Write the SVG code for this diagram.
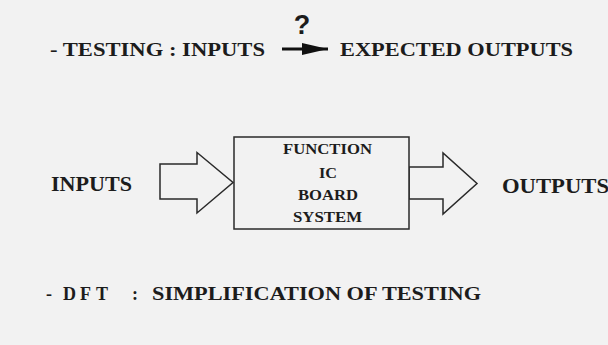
<svg xmlns="http://www.w3.org/2000/svg" width="608" height="345" viewBox="0 0 608 345">
  <style>
    .t { font-family: "Liberation Serif", "Times New Roman", serif; font-weight: bold; fill: #1c1c1c; }
    .shape { fill: #f2f2f2; stroke: #2a2a2a; stroke-width: 1.5; stroke-linejoin: miter; }
  </style>
  <defs>
    <marker id="head" viewBox="0 0 26 12" refX="26" refY="6" markerWidth="26" markerHeight="12" markerUnits="userSpaceOnUse" orient="auto">
      <path d="M0,0 L26,6 L0,12 Z" fill="#111"/>
    </marker>
  </defs>
  <rect x="0" y="0" width="608" height="345" fill="#f2f2f2"/>

  <g id="title">
    <text class="t" x="50" y="55.5" font-size="19.5" textLength="215" lengthAdjust="spacingAndGlyphs">- TESTING : INPUTS</text>
    <text x="302" y="34" font-family="Liberation Sans, Arial, sans-serif" font-weight="bold" font-size="27" fill="#1c1c1c" text-anchor="middle">?</text>
    <text class="t" x="340" y="55.5" font-size="19.5" textLength="233" lengthAdjust="spacingAndGlyphs">EXPECTED OUTPUTS</text>
  </g>

  <g id="connectors">
    <line x1="282" y1="49" x2="328" y2="49" stroke="#111" stroke-width="3" marker-end="url(#head)"/>
    <polygon id="input-arrow" class="shape" points="160,164 197,164 197,152.5 233,182.5 197,213 197,199 160,199"/>
    <polygon id="output-arrow" class="shape" points="409,167 443,167 443,153 477,183.5 443,214 443,199 409,199"/>
  </g>

  <g id="inputs">
    <text class="t" x="51" y="190.5" font-size="20" textLength="81" lengthAdjust="spacingAndGlyphs">INPUTS</text>
  </g>

  <g id="block">
    <rect class="shape" x="234" y="137" width="175" height="92" fill="none"/>
    <text class="t" x="283" y="153.5" font-size="14.5" textLength="89" lengthAdjust="spacingAndGlyphs">FUNCTION</text>
    <text class="t" x="319" y="177.5" font-size="14.5" textLength="18" lengthAdjust="spacingAndGlyphs">IC</text>
    <text class="t" x="298" y="200" font-size="14.5" textLength="60" lengthAdjust="spacingAndGlyphs">BOARD</text>
    <text class="t" x="293" y="222" font-size="14.5" textLength="69" lengthAdjust="spacingAndGlyphs">SYSTEM</text>
  </g>

  <g id="outputs">
    <text class="t" x="502" y="193" font-size="20" textLength="107" lengthAdjust="spacingAndGlyphs">OUTPUTS</text>
  </g>

  <g id="dft">
    <text class="t" font-size="18" y="300"><tspan x="46">-</tspan><tspan x="63">D</tspan><tspan x="80">F</tspan><tspan x="96">T</tspan><tspan x="132">:</tspan></text>
    <text class="t" x="152" y="300" font-size="18" textLength="329" lengthAdjust="spacingAndGlyphs">SIMPLIFICATION OF TESTING</text>
  </g>
</svg>
